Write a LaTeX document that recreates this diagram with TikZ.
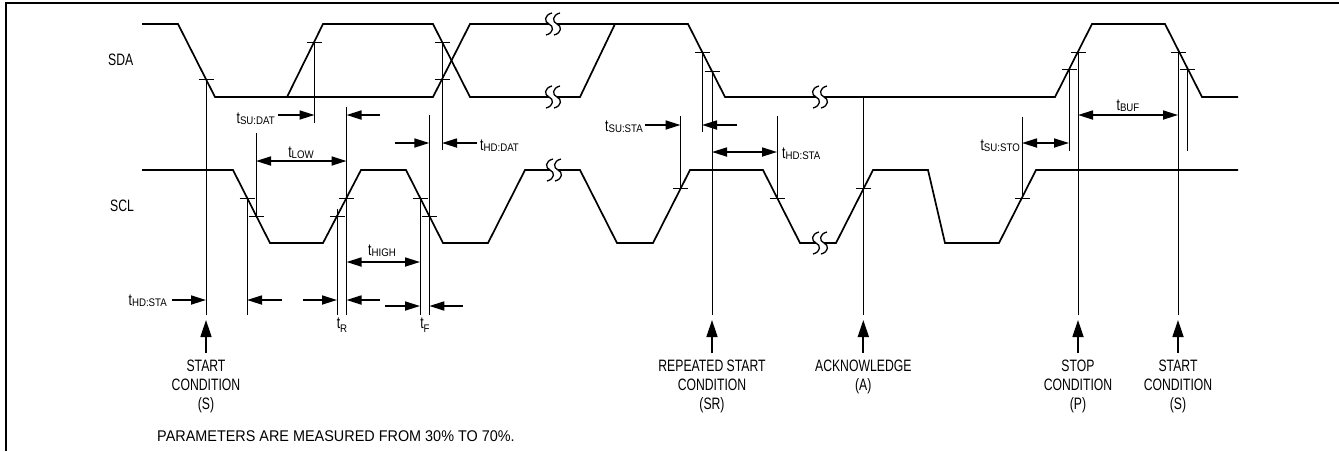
\documentclass[tikz,border=0pt]{standalone}
\usepackage{fontspec}
\setmainfont{Liberation Sans}[FakeStretch=0.74]
\newfontfamily\subfont{Liberation Sans}[FakeStretch=0.88]
\newfontfamily\notefont{Liberation Sans}[FakeStretch=0.93]
\usetikzlibrary{arrows.meta}
\newcommand\tsub[2][-1pt]{t{\subfont\fontsize{11}{12}\selectfont\raisebox{#1}{#2}}}
\newcommand\sigbreak[2]{%
  \fill[white] (#1-4,#2-3) rectangle (#1+4,#2+3);
  \foreach \dx in {-4,4}{%
    \draw[line width=1.3pt] (#1+\dx+3,#2-11) .. controls (#1+\dx-5,#2-9) and (#1+\dx-5,#2-2) .. (#1+\dx,#2)
      .. controls (#1+\dx+5,#2+2) and (#1+\dx+5,#2+9) .. (#1+\dx-3,#2+11);}%
}
\begin{document}
\begin{tikzpicture}[x=1pt,y=-1pt,
  wave/.style={line width=1.7pt,line join=miter},
  vline/.style={line width=0.9pt},
  tickm/.style={line width=0.9pt},
  dimr/.style={line width=1.7pt,-{Triangle[length=15pt,width=9pt]}},
  dimb/.style={line width=1.7pt,{Triangle[length=15pt,width=9pt]}-{Triangle[length=15pt,width=9pt]}},
  evarrow/.style={line width=1.7pt,-{Triangle[length=17pt,width=11pt]}},
  lbl/.style={font=\fontsize{16.5}{18.8}\selectfont,inner sep=0pt},
]
\useasboundingbox (0,0) rectangle (1339,451);
\fill[white] (0,0) rectangle (1339,451);
% frame
\draw[line width=2.5pt] (6.2,451) -- (6.2,3) -- (1339,3);

% signal names
\node[lbl,anchor=base west] (sda) at (108,65) {SDA};
\node[lbl,anchor=base west] (scl) at (110,211) {SCL};

% SDA waveform
\draw[wave] (142,24) -- (178,24) -- (215,97) -- (433,97) -- (470,24) -- (688,24) -- (725,97)
  -- (1055,97) -- (1092,24) -- (1165,24) -- (1202,97) -- (1238,97);
\draw[wave] (287,97) -- (323,24) -- (433,24) -- (470,97) -- (580,97) -- (615,24);

% SCL waveform
\draw[wave] (142,170) -- (233,170) -- (270,243) -- (323,243) -- (361,170) -- (406,170)
  -- (443,243) -- (488,243) -- (525,170) -- (580,170) -- (617,243) -- (653,243) -- (690,170)
  -- (763,170) -- (800,243) -- (836,243) -- (873,170) -- (928,170) -- (945,243) -- (999,243)
  -- (1036,170) -- (1238,170);

% breaks
\sigbreak{553}{24}
\sigbreak{553}{97}
\sigbreak{554}{170}
\sigbreak{820}{97}
\sigbreak{820}{243}

% tick points
\coordinate (a1) at (206,79);
\coordinate (a2) at (314.5,42);
\coordinate (a3) at (442,42);
\coordinate (a4) at (442,79);
\coordinate (a5) at (702,52);
\coordinate (a6) at (712,71);
\coordinate (a7) at (1069,69);
\coordinate (a8) at (1078,52);
\coordinate (a9) at (1178,52);
\coordinate (a10) at (1187,69);
\coordinate (c1) at (247,198);
\coordinate (c2) at (256,216);
\coordinate (c3) at (337,216);
\coordinate (c4) at (346.5,198);
\coordinate (c5) at (420,198);
\coordinate (c6) at (429.3,216);
\coordinate (c7) at (680.5,188);
\coordinate (c8) at (777,198);
\coordinate (c9) at (863.3,188);
\coordinate (c10) at (1022,198);
\foreach \p in {a1,a2,a3,a4,a5,a6,a7,a8,a9,a10,c1,c2,c3,c4,c5,c6,c7,c8,c9,c10}
  \draw[tickm] ([xshift=-7.5pt]\p) -- ([xshift=7.5pt]\p);

% vertical reference lines
\draw[vline] (a1) -- (206,315);
\draw[vline] (a2) -- (314.5,123);
\draw[vline] (346.5,107) -- (346.5,315);
\draw[vline] (a3) -- (442,150);
\draw[vline] (256,133) -- (c2);
\draw[vline] (c1) -- (247,315);
\draw[vline] (337,209) -- (337,315);
\draw[vline] (c5) -- (420,315);
\draw[vline] (429.3,115) -- (429.3,315);
\draw[vline] (680.5,116) -- (c7);
\draw[vline] (a5) -- (702,132);
\draw[vline] (a6) -- (712,315);
\draw[vline] (777,116) -- (c8);
\draw[vline] (863.3,97) -- (863.3,315);
\draw[vline] (1022,117) -- (c10);
\draw[vline] (a7) -- (1069,151);
\draw[vline] (a8) -- (1078,315);
\draw[vline] (a9) -- (1178,315);
\draw[vline] (a10) -- (1187,151);

% timing arrows
\draw[dimr] (278,115) -- (314.5,115);
\draw[dimr] (380,115) -- (346.5,115);
\node[lbl,anchor=base east] (lsudat) at (275,123) {\tsub{SU:DAT}};

\draw[dimb] (256,161) -- (346.5,161);
\node[lbl,anchor=base] (llow) at (301,157) {\tsub{LOW}};

\draw[dimr] (395,143) -- (429.3,143);
\draw[dimr] (477,143) -- (442,143);
\node[lbl,anchor=base west] (lhddat) at (480,150) {\tsub{HD:DAT}};

\draw[dimr] (645,125) -- (680.5,125);
\draw[dimr] (737,125) -- (702,125);
\node[lbl,anchor=base east] (lsusta) at (643,131) {\tsub{SU:STA}};

\draw[dimb] (712,152) -- (777,152);
\node[lbl,anchor=base west] (lhdsta2) at (782,158) {\tsub{HD:STA}};

\draw[dimb] (1022,143) -- (1069,143);
\node[lbl,anchor=base east] (lsusto) at (1020,150) {\tsub{SU:STO}};

\draw[dimb] (1078,115) -- (1178,115);
\node[lbl,anchor=base] (lbuf) at (1128,110) {\tsub{BUF}};

\draw[dimb] (346.5,262) -- (420,262);
\node[lbl,anchor=base] (lhigh) at (382,255) {\tsub{HIGH}};

\draw[dimr] (172,300) -- (206,300);
\draw[dimr] (282,300) -- (247,300);
\node[lbl,anchor=base east] (lhdsta1) at (167,305) {\tsub{HD:STA}};

\draw[dimr] (303,300) -- (337,300);
\draw[dimr] (380,300) -- (346.5,300);
\node[lbl,anchor=base] (lr) at (342,328) {\tsub[-4pt]{R}};

\draw[dimr] (385,306) -- (420,306);
\draw[dimr] (463,306) -- (429.3,306);
\node[lbl,anchor=base] (lf) at (425,328) {\tsub[-4pt]{F}};

% event markers
\foreach \x/\n in {206/e1,712/e2,863.3/e3,1078/e4,1178/e5}{
  \coordinate (\n tail) at (\x,353);
  \coordinate (\n tip) at (\x,320);
  \draw[evarrow] (\n tail) -- (\n tip);}
\node[lbl,align=center,anchor=north] (ev1) at (206,360) {START\\CONDITION\\(S)};
\node[lbl,align=center,anchor=north] (ev2) at (712,360) {REPEATED START\\CONDITION\\(SR)};
\node[lbl,align=center,anchor=north] (ev3) at (863.3,360) {ACKNOWLEDGE\\(A)};
\node[lbl,align=center,anchor=north] (ev4) at (1078,360) {STOP\\CONDITION\\(P)};
\node[lbl,align=center,anchor=north] (ev5) at (1178,360) {START\\CONDITION\\(S)};

\node[lbl,font=\notefont\fontsize{15.5}{18}\selectfont,anchor=base west] (note) at (157,441.7) {PARAMETERS ARE MEASURED FROM 30\% TO 70\%.};
\end{tikzpicture}
\end{document}
